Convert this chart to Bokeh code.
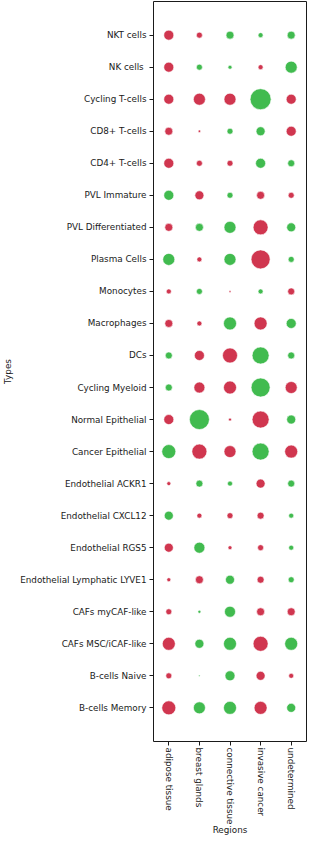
from bokeh.plotting import figure
from bokeh.models import FactorRange, ColumnDataSource
from bokeh.transform import factor_cmap
from bokeh.embed import file_html
from bokeh.resources import INLINE

types = ["NKT cells", "NK cells ", "Cycling T-cells", "CD8+ T-cells", "CD4+ T-cells",
         "PVL Immature", "PVL Differentiated", "Plasma Cells", "Monocytes", "Macrophages",
         "DCs", "Cycling Myeloid", "Normal Epithelial", "Cancer Epithelial",
         "Endothelial ACKR1", "Endothelial CXCL12", "Endothelial RGS5",
         "Endothelial Lymphatic LYVE1", "CAFs myCAF-like", "CAFs MSC/iCAF-like",
         "B-cells Naive", "B-cells Memory"]
regions = ["adipose tissue", "breast glands", "connective tissue", "invasive cancer", "undetermined"]

# magnitude per region (row order as in types)
adipose_tissue = [10, 10, 10, 8, 10, 10, 8, 12, 5, 8, 7, 7, 10, 14, 4, 9, 9, 4, 6, 13, 6, 14]
breast_glands = [6, 6, 12, 2.5, 6, 9, 8, 5, 6, 5, 10, 11, 20, 15, 7, 5, 11, 8, 3, 9, 1.5, 12]
connective_tissue = [8, 4, 12, 6, 6, 6, 12, 12, 2, 13, 15, 13, 3, 12, 5, 6, 4, 9, 11, 13, 10, 13]
invasive_cancer = [5, 5, 21, 9, 10, 8, 15, 19, 5, 13, 17, 19, 17, 17, 9, 7, 6, 7, 8, 15, 9, 13]
undetermined = [8, 12, 10, 10, 7, 6, 9, 6, 7, 10, 7, 12, 9, 13, 7, 5, 5, 6, 8, 13, 5, 9]

# direction per region: "pos" (green) / "neg" (red)
adipose_sign = "neg neg neg neg neg pos neg pos neg neg pos pos neg pos neg pos neg neg neg neg neg neg".split()
breast_sign = "neg pos neg neg neg neg pos neg pos neg neg neg pos neg pos neg pos neg pos pos pos pos".split()
connective_sign = "pos pos neg pos neg pos pos pos neg pos neg neg neg neg pos neg neg pos pos pos pos pos".split()
invasive_sign = "pos neg pos pos pos neg neg neg pos neg pos pos neg pos neg neg neg neg neg neg neg neg".split()
undetermined_sign = "pos pos neg neg pos neg pos pos neg pos pos neg pos neg pos pos pos pos neg pos neg pos".split()

values = [adipose_tissue, breast_glands, connective_tissue, invasive_cancer, undetermined]
signs = [adipose_sign, breast_sign, connective_sign, invasive_sign, undetermined_sign]

SCALE = 1.0
xs, ys, vs, ss, sizes = [], [], [], [], []
for reg, vals, sg in zip(regions, values, signs):
    for t, v, s in zip(types, vals, sg):
        xs.append(reg)
        ys.append(t)
        vs.append(v)
        ss.append(s)
        sizes.append(v * SCALE)

src = ColumnDataSource(dict(x=xs, y=ys, v=vs, sign=ss, size=sizes))

FONT = "DejaVu Sans"
FS = "8.8px"
INK = "#1a1a1a"

p = figure(width=307, height=838, output_backend="svg", toolbar_location=None,
           x_range=FactorRange(*regions),
           y_range=FactorRange(factors=types[::-1], range_padding=0.55, range_padding_units="absolute"),
           min_border_top=1, min_border_right=1, min_border_left=145, min_border_bottom=0)

p.scatter(x="x", y="y", size="size", source=src,
          fill_color=factor_cmap("sign", palette=["#41bb4f", "#d0364f"], factors=["pos", "neg"]),
          line_color="white", line_width=0.6, fill_alpha=1.0)

p.xgrid.grid_line_color = None
p.ygrid.grid_line_color = None
p.outline_line_color = INK
p.outline_line_width = 1
p.background_fill_color = "white"
p.border_fill_color = "white"

for ax in (p.xaxis[0], p.yaxis[0]):
    ax.axis_line_color = None
    ax.major_tick_line_color = INK
    ax.major_tick_out = 4
    ax.major_tick_in = 0
    ax.minor_tick_line_color = None
    ax.major_label_text_font = FONT
    ax.major_label_text_font_size = FS
    ax.major_label_text_color = INK
    ax.axis_label_text_font = FONT
    ax.axis_label_text_font_size = FS
    ax.axis_label_text_font_style = "normal"
    ax.axis_label_text_color = INK
    ax.major_label_standoff = 3
    ax.axis_label_standoff = 4

p.xaxis.major_label_standoff = 2
p.xaxis.axis_label_standoff = -2
p.xaxis.axis_label = "Regions"
p.yaxis.axis_label = "Types"
p.xaxis.major_label_orientation = "vertical"

open("out.html", "w").write(file_html(p, INLINE))
